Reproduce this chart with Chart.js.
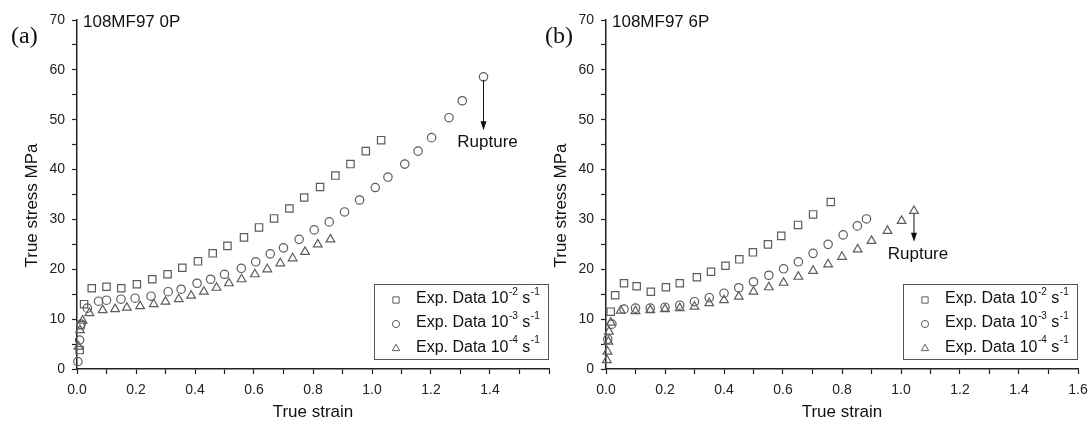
<!DOCTYPE html>
<html>
<head>
<meta charset="utf-8">
<script src="https://cdn.jsdelivr.net/npm/chart.js@4/dist/chart.umd.min.js"></script>
<style>
  html, body { margin: 0; padding: 0; background: #fff; }
  #wrap { position: relative; width: 1091px; height: 424px; overflow: hidden; background: #fff; }
  .panel { position: absolute; top: 0; }
</style>
</head>
<body>
<div id="wrap">
  <canvas id="chartA" class="panel" style="left:0px" width="560" height="424"></canvas>
  <canvas id="chartB" class="panel" style="left:530px" width="561" height="424"></canvas>
</div>
<script>
// ---- Panel (a): 108MF97 0P ----
const strainA_1e2 = [0.009, 0.012, 0.024, 0.05, 0.10, 0.15, 0.203, 0.255, 0.307, 0.357, 0.41, 0.46, 0.51, 0.566, 0.617, 0.668, 0.72, 0.77, 0.824, 0.876, 0.927, 0.979, 1.031];
const stressA_1e2 = [3.8, 8.8, 13.0, 16.2, 16.5, 16.2, 17.0, 18.0, 19.0, 20.3, 21.6, 23.2, 24.7, 26.4, 28.4, 30.2, 32.2, 34.4, 36.5, 38.8, 41.1, 43.7, 45.9];

const strainA_1e3 = [0.003, 0.009, 0.014, 0.035, 0.073, 0.10, 0.149, 0.197, 0.251, 0.309, 0.353, 0.407, 0.453, 0.50, 0.557, 0.606, 0.655, 0.70, 0.753, 0.804, 0.855, 0.907, 0.958, 1.011, 1.054, 1.111, 1.156, 1.202, 1.261, 1.306, 1.378];
const stressA_1e3 = [1.5, 5.8, 9.0, 12.2, 13.6, 13.8, 14.0, 14.2, 14.6, 15.5, 16.0, 17.2, 18.0, 19.0, 20.2, 21.5, 23.1, 24.3, 26.0, 27.9, 29.5, 31.5, 33.9, 36.4, 38.5, 41.1, 43.7, 46.4, 50.4, 53.8, 58.6];

const strainA_1e4 = [0.005, 0.01, 0.019, 0.042, 0.087, 0.129, 0.169, 0.214, 0.26, 0.30, 0.345, 0.387, 0.43, 0.473, 0.515, 0.558, 0.603, 0.645, 0.689, 0.731, 0.773, 0.816, 0.859];
const stressA_1e4 = [4.5, 7.8, 9.7, 11.2, 11.8, 12.0, 12.3, 12.6, 13.0, 13.5, 14.0, 14.7, 15.5, 16.3, 17.2, 18.0, 19.0, 20.0, 21.2, 22.2, 23.5, 25.0, 26.0];

// ---- Panel (b): 108MF97 6P ----
const strainB_1e2 = [0.016, 0.031, 0.061, 0.104, 0.152, 0.203, 0.25, 0.308, 0.356, 0.405, 0.452, 0.498, 0.549, 0.594, 0.651, 0.702, 0.762];
const stressB_1e2 = [11.5, 14.8, 17.2, 16.6, 15.5, 16.4, 17.2, 18.4, 19.5, 20.7, 22.0, 23.4, 25.0, 26.7, 28.9, 31.0, 33.5];

const strainB_1e3 = [0.006, 0.02, 0.061, 0.10, 0.15, 0.20, 0.25, 0.30, 0.35, 0.40, 0.45, 0.50, 0.552, 0.602, 0.652, 0.702, 0.753, 0.804, 0.852, 0.883];
const stressB_1e3 = [6.0, 9.0, 12.0, 12.2, 12.2, 12.4, 12.8, 13.5, 14.3, 15.2, 16.3, 17.5, 18.8, 20.1, 21.5, 23.2, 25.0, 26.9, 28.7, 30.1];

const strainB_1e4 = [0.003, 0.005, 0.008, 0.01, 0.016, 0.05, 0.10, 0.15, 0.20, 0.25, 0.30, 0.35, 0.40, 0.45, 0.50, 0.552, 0.602, 0.652, 0.702, 0.753, 0.80, 0.853, 0.90, 0.954, 1.002, 1.044];
const stressB_1e4 = [1.8, 3.5, 5.5, 7.5, 9.3, 11.7, 11.6, 11.8, 12.0, 12.2, 12.5, 13.2, 13.8, 14.5, 15.5, 16.4, 17.3, 18.5, 19.7, 21.0, 22.5, 24.0, 25.7, 27.7, 29.7, 31.7];

// Strain-rate exponents shown in the legend (10^exp s^-1)
const rateExponents = ['-2', '-3', '-4'];
const legendPrefix = 'Exp. Data 10';

// Axis tick labels
const xTickLabels = ['0.0', '0.2', '0.4', '0.6', '0.8', '1.0', '1.2', '1.4', '1.6'];
const yTickLabels = ['0', '10', '20', '30', '40', '50', '60', '70'];

// Panel captions
const panelTitles = ['108MF97 0P', '108MF97 6P'];
const panelTags = ['(a)', '(b)'];
const ruptureText = 'Rupture';
// Stress level where each rupture arrow ends (MPa)
const ruptureArrowEnd = [47.9, 25.5];

const FONT = '"Liberation Sans", Arial, Helvetica, sans-serif';
Chart.defaults.font.family = FONT;

const MARKER_COLOR = '#5c5c5c';
const pointStyles = ['rect', 'circle', 'triangle'];
const pointRadii = [5.2, 4.2, 5.0];

function toPoints(xs, ys) {
  return xs.map((v, i) => ({ x: v, y: ys[i] }));
}

function series(xs, ys, k) {
  return {
    data: toPoints(xs, ys),
    showLine: false,
    pointStyle: pointStyles[k],
    pointRadius: pointRadii[k],
    pointHoverRadius: pointRadii[k],
    borderColor: MARKER_COLOR,
    backgroundColor: 'rgba(0,0,0,0)',
    pointBorderWidth: 1.2,
    clip: false
  };
}

// Draws the panel tag, the sample title, the y-axis title, the rupture arrow and the legend box
const panelDecor = {
  id: 'panelDecor',
  afterDraw(chart, args, o) {
    const { ctx, chartArea: a, scales } = chart;
    const xs = scales.x, ys = scales.y;
    ctx.save();
    ctx.fillStyle = '#111';
    ctx.textBaseline = 'middle';

    // panel tag
    ctx.font = '24px "Liberation Serif", "Times New Roman", serif';
    ctx.textAlign = 'left';
    ctx.fillText(o.tag, a.left - o.tagGap, 37);

    // sample title
    ctx.font = '17px ' + FONT;
    ctx.fillText(o.title, a.left + 6, a.top + 2);

    // y axis title
    ctx.save();
    ctx.translate(a.left - 45, (a.top + a.bottom) / 2 + 11);
    ctx.rotate(-Math.PI / 2);
    ctx.textAlign = 'center';
    ctx.fillText('True stress MPa', 0, 0);
    ctx.restore();

    // rupture arrow from the last point of the chosen series
    const ds = chart.data.datasets[o.ruptureSeries].data;
    const last = ds[ds.length - 1];
    const px = xs.getPixelForValue(last.x);
    const py0 = ys.getPixelForValue(last.y) + 3;
    const py1 = ys.getPixelForValue(o.arrowEnd);
    ctx.strokeStyle = '#111';
    ctx.lineWidth = 1;
    ctx.beginPath();
    ctx.moveTo(px, py0);
    ctx.lineTo(px, py1 - 8);
    ctx.stroke();
    ctx.beginPath();
    ctx.moveTo(px - 3, py1 - 9);
    ctx.lineTo(px + 3, py1 - 9);
    ctx.lineTo(px, py1);
    ctx.closePath();
    ctx.fill();
    ctx.textAlign = 'center';
    ctx.font = '17px ' + FONT;
    ctx.fillText(ruptureText, px + 4, py1 + 12);

    // legend box
    const bw = 175, bh = 75;
    const bx = a.right - bw, by = a.bottom - 10 - bh;
    ctx.strokeStyle = '#555';
    ctx.lineWidth = 1;
    ctx.strokeRect(bx + 0.5, by + 0.5, bw - 1, bh);
    const rowY = [15, 39, 63.5];
    chart.data.datasets.forEach((d, i) => {
      const cy = by + rowY[i];
      ctx.strokeStyle = MARKER_COLOR;
      ctx.fillStyle = 'rgba(0,0,0,0)';
      Chart.helpers.drawPoint(ctx, {
        pointStyle: d.pointStyle, radius: d.pointRadius * 0.85, borderWidth: 1.1, rotation: 0
      }, bx + 22, cy + 1);
      ctx.fillStyle = '#111';
      ctx.textAlign = 'left';
      let tx = bx + 42;
      ctx.font = '16px ' + FONT;
      ctx.fillText(legendPrefix, tx, cy);
      tx += ctx.measureText(legendPrefix).width;
      ctx.font = '10px ' + FONT;
      ctx.fillText(rateExponents[i], tx + 0.5, cy - 7);
      tx += ctx.measureText(rateExponents[i]).width + 0.5;
      ctx.font = '16px ' + FONT;
      ctx.fillText(' s', tx, cy);
      tx += ctx.measureText(' s').width;
      ctx.font = '10px ' + FONT;
      ctx.fillText('-1', tx + 0.5, cy - 7);
    });
    ctx.restore();
  }
};

function makePanel(id, k, sets, leftW, rightPad, hideLastX) {
  const lastX = xTickLabels.length - 1;
  return new Chart(document.getElementById(id), {
    type: 'scatter',
    data: { datasets: sets },
    options: {
      responsive: false,
      animation: false,
      events: [],
      layout: { padding: { left: 0, top: 20, right: rightPad, bottom: 0 } },
      plugins: {
        legend: { display: false },
        tooltip: { enabled: false },
        panelDecor: {
          tag: panelTags[k],
          tagGap: k === 0 ? 66 : 61,
          title: panelTitles[k],
          ruptureSeries: k === 0 ? 1 : 2,
          arrowEnd: ruptureArrowEnd[k]
        }
      },
      scales: {
        x: {
          type: 'linear',
          min: 0, max: 1.6,
          afterFit(s) { s.height = 55; s.paddingLeft = 0; s.paddingRight = 0; },
          border: { display: true, color: '#222', width: 1.5 },
          grid: { drawOnChartArea: false, drawTicks: true, tickLength: 5, tickColor: '#222', tickWidth: 1.2 },
          ticks: {
            stepSize: 0.1,
            autoSkip: false,
            maxRotation: 0,
            padding: 8,
            color: '#222',
            font: { size: 14 },
            callback(v) {
              const n = Math.round(v * 10);
              if (n % 2 !== 0) return '';
              const idx = n / 2;
              if (hideLastX && idx === lastX) return '';
              return xTickLabels[idx];
            }
          },
          title: {
            display: true,
            text: 'True strain',
            color: '#111',
            font: { size: 17 },
            padding: { top: 0, bottom: 1 }
          }
        },
        y: {
          type: 'linear',
          min: 0, max: 70,
          afterFit(s) { s.width = leftW; s.paddingTop = 0; s.paddingBottom = 0; },
          border: { display: true, color: '#222', width: 1.5 },
          grid: { drawOnChartArea: false, drawTicks: true, tickLength: 5, tickColor: '#222', tickWidth: 1.2 },
          ticks: {
            stepSize: 5,
            autoSkip: false,
            padding: 7,
            color: '#222',
            font: { size: 14 },
            callback(v) {
              const n = Math.round(v);
              return n % 10 === 0 ? yTickLabels[n / 10] : '';
            }
          }
        }
      }
    },
    plugins: [panelDecor]
  });
}

makePanel('chartA', 0, [
  series(strainA_1e2, stressA_1e2, 0),
  series(strainA_1e3, stressA_1e3, 1),
  series(strainA_1e4, stressA_1e4, 2)
], 77, 11, true);

makePanel('chartB', 1, [
  series(strainB_1e2, stressB_1e2, 0),
  series(strainB_1e3, stressB_1e3, 1),
  series(strainB_1e4, stressB_1e4, 2)
], 76, 13, false);
</script>
</body>
</html>
